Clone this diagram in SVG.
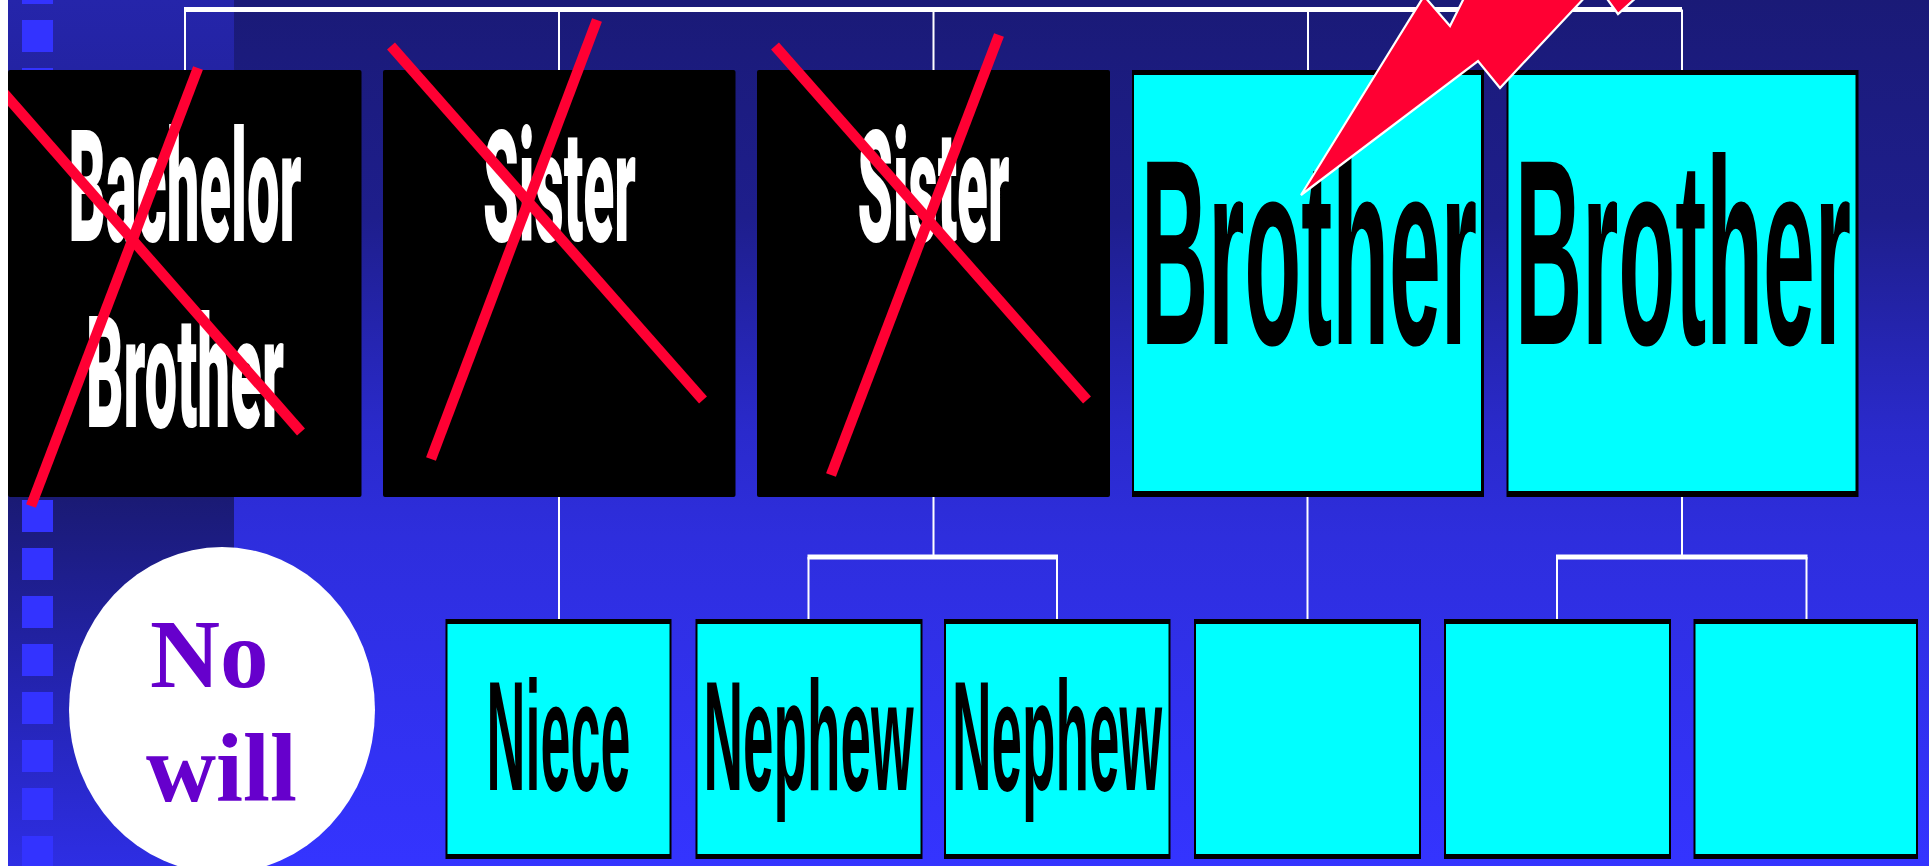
<svg xmlns="http://www.w3.org/2000/svg" width="1929" height="866" viewBox="0 0 1929 866">
<defs>
<linearGradient id="bgMain" x1="0" y1="0" x2="0" y2="866" gradientUnits="userSpaceOnUse">
<stop offset="0" stop-color="#1a1a77"/>
<stop offset="0.25" stop-color="#1e1e8c"/>
<stop offset="0.5" stop-color="#2a2acc"/>
<stop offset="0.62" stop-color="#2e2edd"/>
<stop offset="1" stop-color="#3434ff"/>
</linearGradient>
<linearGradient id="bgLeft" x1="0" y1="0" x2="0" y2="866" gradientUnits="userSpaceOnUse">
<stop offset="0" stop-color="#2525aa"/>
<stop offset="0.12" stop-color="#2222a0"/>
<stop offset="0.575" stop-color="#1a1a74"/>
<stop offset="0.8" stop-color="#2424b2"/>
<stop offset="1" stop-color="#2e2ee4"/>
</linearGradient>
<style>
.sq{fill:#3333ff}
.conn{stroke:#ffffff;fill:none}
.v{stroke-width:2}
.h{stroke-width:5}
.blk{fill:#000000}
.cyan{fill:#00ffff}
.wt{fill:#ffffff;font-family:Roboto,"Liberation Sans",Arial,sans-serif;font-weight:900;font-size:156px;text-anchor:middle}
.bt{fill:#000000;font-family:"Liberation Sans",Arial,sans-serif;font-weight:bold;font-size:156px;text-anchor:middle}
.bb{fill:#000000;font-family:"Liberation Sans",Arial,sans-serif;font-weight:bold;font-size:265px;text-anchor:middle}
.x{stroke:#ff0033;stroke-width:10.5;stroke-linecap:butt}
.bolt{fill:#ff0033;stroke:#ffffff;stroke-width:2.2;stroke-linejoin:miter}
.nw{fill:#6600cc;font-family:"Liberation Serif","Times New Roman",serif;font-weight:bold;font-size:97px}
</style>
</defs>

<g id="background">
<rect x="0" y="0" width="1929" height="866" fill="url(#bgMain)"/>
<rect x="8" y="0" width="226" height="866" fill="url(#bgLeft)"/>
<g id="squares">
<rect class="sq" x="22" y="-28" width="31" height="32"/>
<rect class="sq" x="22" y="20" width="31" height="32"/>
<rect class="sq" x="22" y="68" width="31" height="32"/>
<rect class="sq" x="22" y="500" width="31" height="32"/>
<rect class="sq" x="22" y="548" width="31" height="32"/>
<rect class="sq" x="22" y="596" width="31" height="32"/>
<rect class="sq" x="22" y="644" width="31" height="32"/>
<rect class="sq" x="22" y="692" width="31" height="32"/>
<rect class="sq" x="22" y="740" width="31" height="32"/>
<rect class="sq" x="22" y="788" width="31" height="32"/>
<rect class="sq" x="22" y="836" width="31" height="32"/>
</g>
</g>

<g id="connectors">
<path class="conn h" d="M184 9.5 H1682"/>
<path class="conn v" d="M185 9.5 V70 M559 9.5 V70 M933.5 9.5 V70 M1308 9.5 V70 M1682 9.5 V70"/>
<path class="conn v" d="M559 497 V619"/>
<path class="conn v" d="M933.5 497 V557 M808.5 557 V619 M1057 557 V619"/>
<path class="conn h" d="M807.5 557 H1058" stroke-width="4"/>
<path class="conn v" d="M1307.5 497 V619"/>
<path class="conn v" d="M1682 497 V557 M1557 557 V619 M1806.5 557 V619"/>
<path class="conn h" d="M1556 557 H1807.5" stroke-width="4"/>
</g>

<g id="node-bachelor-brother">
<rect class="blk" x="8" y="70" width="353.5" height="427" rx="2"/>
<text class="wt" transform="translate(185 241) scale(0.35 1)" x="0" y="0" textLength="666" lengthAdjust="spacingAndGlyphs">Bachelor</text>
<text class="wt" transform="translate(185 427) scale(0.35 1)" x="0" y="0" textLength="566" lengthAdjust="spacingAndGlyphs">Brother</text>
</g>
<g id="node-sister-1">
<rect class="blk" x="383" y="70" width="352.5" height="427" rx="2"/>
<text class="wt" transform="translate(559.5 241) scale(0.35 1)" x="0" y="0" textLength="437" lengthAdjust="spacingAndGlyphs">Sister</text>
</g>
<g id="node-sister-2">
<rect class="blk" x="757" y="70" width="353" height="427" rx="2"/>
<text class="wt" transform="translate(933.5 241) scale(0.35 1)" x="0" y="0" textLength="434" lengthAdjust="spacingAndGlyphs">Sister</text>
</g>
<g id="node-brother-1">
<rect class="blk" x="1132" y="70" width="352" height="427"/>
<rect class="cyan" x="1134" y="75" width="347" height="416"/>
<text class="bb" transform="translate(1309 344) scale(0.35 1)" x="0" y="0" textLength="960" lengthAdjust="spacingAndGlyphs">Brother</text>
</g>
<g id="node-brother-2">
<rect class="blk" x="1506.5" y="70" width="352" height="427"/>
<rect class="cyan" x="1508.5" y="75" width="347" height="416"/>
<text class="bb" transform="translate(1683 344) scale(0.35 1)" x="0" y="0" textLength="960" lengthAdjust="spacingAndGlyphs">Brother</text>
</g>

<g id="node-niece">
<rect class="blk" x="445.5" y="619" width="226" height="240"/>
<rect class="cyan" x="447.5" y="624" width="222" height="230"/>
<text class="bt" transform="translate(558.5 790) scale(0.35 1)" x="0" y="0" textLength="411" lengthAdjust="spacingAndGlyphs">Niece</text>
</g>
<g id="node-nephew-1">
<rect class="blk" x="695.5" y="619" width="227" height="240"/>
<rect class="cyan" x="697.5" y="624" width="223" height="230"/>
<text class="bt" transform="translate(808.5 790) scale(0.35 1)" x="0" y="0" textLength="600" lengthAdjust="spacingAndGlyphs">Nephew</text>
</g>
<g id="node-nephew-2">
<rect class="blk" x="944" y="619" width="226.5" height="240"/>
<rect class="cyan" x="946" y="624" width="222.5" height="230"/>
<text class="bt" transform="translate(1057 790) scale(0.35 1)" x="0" y="0" textLength="600" lengthAdjust="spacingAndGlyphs">Nephew</text>
</g>
<g id="node-child-4">
<rect class="blk" x="1194" y="619" width="227" height="240"/>
<rect class="cyan" x="1196" y="624" width="223" height="230"/>
</g>
<g id="node-child-5">
<rect class="blk" x="1444" y="619" width="227" height="240"/>
<rect class="cyan" x="1446" y="624" width="223" height="230"/>
</g>
<g id="node-child-6">
<rect class="blk" x="1693.5" y="619" width="224.5" height="240"/>
<rect class="cyan" x="1695.5" y="624" width="220.5" height="230"/>
</g>

<g id="crosses">
<line class="x" x1="2" y1="91" x2="301" y2="432"/>
<line class="x" x1="198" y1="68" x2="31" y2="506"/>
<line class="x" x1="391" y1="46" x2="703" y2="400"/>
<line class="x" x1="597" y1="20" x2="431" y2="459"/>
<line class="x" x1="775" y1="46" x2="1087" y2="400"/>
<line class="x" x1="999" y1="35" x2="831" y2="475"/>
</g>

<g id="lightning">
<polygon class="bolt" points="1301,195 1424,-4 1450,26 1466,-6 1588,-6 1500,88 1478,61"/>
<polygon class="bolt" points="1605,-4 1618,14 1638,-4"/>
</g>

<rect id="edge-strip" x="0" y="0" width="8" height="866" fill="#ffffff"/>

<g id="node-no-will">
<ellipse cx="222" cy="710" rx="153" ry="163" fill="#ffffff"/>
<text class="nw" x="150" y="687">No</text>
<text class="nw" x="146" y="801">will</text>
</g>
</svg>
